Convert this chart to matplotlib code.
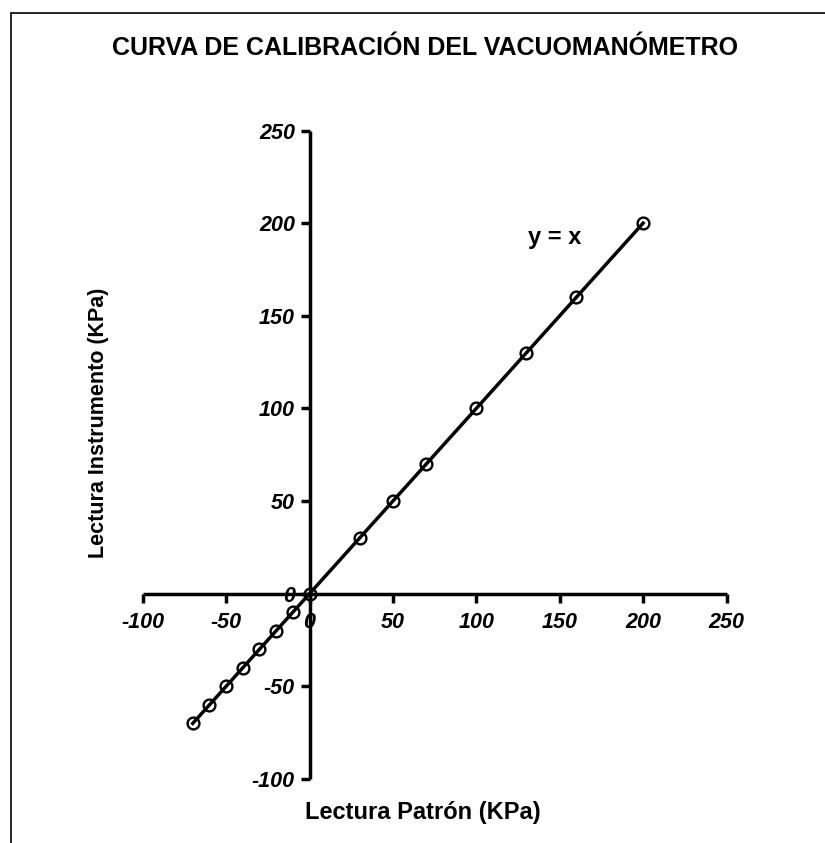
import matplotlib
matplotlib.use("Agg")
import matplotlib.pyplot as plt
from matplotlib.patches import Rectangle

# Data
lectura_patron = [-70, -60, -50, -40, -30, -20, -10, 0, 30, 50, 70, 100, 130, 160, 200]
lectura_instrumento = [-70, -60, -50, -40, -30, -20, -10, 0, 30, 50, 70, 100, 130, 160, 200]
x_ticks = [-100, -50, 0, 50, 100, 150, 200, 250]
y_ticks = [-100, -50, 0, 50, 100, 150, 200, 250]

title = "CURVA DE CALIBRACIÓN DEL VACUOMANÓMETRO"
xlabel = "Lectura Patrón (KPa)"
ylabel = "Lectura Instrumento (KPa)"
eq_label = "y = x"

plt.rcParams['font.family'] = ['Liberation Sans', 'DejaVu Sans']

W, H = 825, 843
fig = plt.figure(figsize=(W / 100, H / 100), dpi=100)

# outer frame (left & top edges visible, right/bottom run off the canvas)
fig.patches.append(Rectangle((11 / W, -0.05), 1.2, 1 - 13 / H + 0.05,
                             transform=fig.transFigure, fill=False,
                             edgecolor='black', linewidth=1.2))

left, right = 142.7 / W, 726.5 / W
top, bottom = 1 - 130.5 / H, 1 - 779 / H
ax = fig.add_axes([left, bottom, right - left, top - bottom])
ax.set_facecolor('none')

ax.plot(lectura_patron, lectura_instrumento, color='black', linewidth=2.5,
        marker='o', markersize=8.5, markerfacecolor='none',
        markeredgecolor='black', markeredgewidth=1.7, clip_on=False, zorder=3)

ax.set_xlim(-100, 250)
ax.set_ylim(-100, 250)
ax.set_xticks(x_ticks)
ax.set_yticks(y_ticks)
ax.set_xticklabels([str(t) for t in x_ticks])
ax.set_yticklabels([str(t) for t in y_ticks])

for side in ['top', 'right']:
    ax.spines[side].set_visible(False)
ax.spines['left'].set_position(('data', 0))
ax.spines['bottom'].set_position(('data', 0))
for side in ['left', 'bottom']:
    ax.spines[side].set_linewidth(2.5)
    ax.spines[side].set_capstyle('butt')

ax.tick_params(axis='both', direction='out', length=6.5, width=2.5,
               labelsize=15.5)
ax.tick_params(axis='x', pad=7)
ax.tick_params(axis='y', pad=4)
for lab in ax.get_xticklabels() + ax.get_yticklabels():
    lab.set_fontweight('bold')
    lab.set_fontstyle('italic')

ax.text(147, 192, eq_label, fontsize=17, fontweight='bold',
        ha='center', va='center')

fig.text(424.5 / W, 1 - 48 / H, title, fontsize=18, fontweight='bold',
         ha='center', va='center')
fig.text(423 / W, 1 - 812 / H, xlabel, fontsize=17, fontweight='bold',
         ha='center', va='center')
fig.text(98.5 / W, 1 - 422.5 / H, ylabel, fontsize=15.5, fontweight='bold',
         ha='center', va='center', rotation=90)

fig.savefig("out.png", dpi=100, facecolor='white')
